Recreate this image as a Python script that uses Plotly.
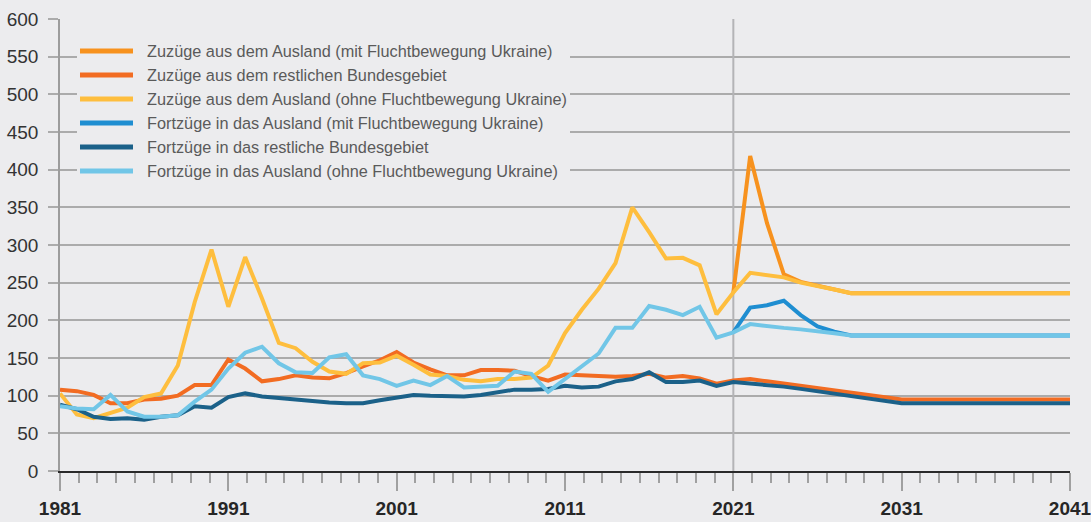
import plotly.graph_objects as go

# ---------------- data ----------------
years = list(range(1981, 2042))

zuzuege_ausland_ohne = [103, 75, 70, 77, 84, 98, 103, 140, 224, 294,
                        218, 284, 229, 170, 163, 145, 132, 129, 143, 144,
                        153, 141, 128, 126, 121, 119, 122, 122, 124, 140,
                        183, 214, 242, 276, 350, 317, 282, 283, 273, 208,
                        237, 263, 260, 257, 250, 246, 241, 236, 236, 236,
                        236, 236, 236, 236, 236, 236, 236, 236, 236, 236, 236]

zuzuege_ausland_mit_years = list(range(2021, 2042))
zuzuege_ausland_mit = [237, 418, 329, 261, 251, 246, 241, 236, 236, 236,
                       236, 236, 236, 236, 236, 236, 236, 236, 236, 236, 236]

zuzuege_bund = [108, 106, 101, 90, 90, 95, 96, 100, 114, 114,
                148, 136, 119, 122, 127, 124, 123, 130, 139, 147,
                158, 144, 135, 127, 127, 134, 134, 133, 126, 120,
                128, 127, 126, 125, 126, 129, 124, 126, 123, 116,
                120, 122, 119, 116, 113, 110, 107, 104, 101, 98,
                95, 95, 95, 95, 95, 95, 95, 95, 95, 95, 95]

fortzuege_ausland_ohne = [86, 83, 82, 101, 79, 72, 72, 74, 92, 108,
                          136, 157, 165, 143, 131, 130, 151, 155, 127, 122,
                          113, 120, 114, 126, 111, 112, 113, 132, 129, 105,
                          122, 138, 156, 190, 190, 219, 214, 207, 218, 177,
                          184, 195, 192, 190, 188, 186, 183, 180, 180, 180,
                          180, 180, 180, 180, 180, 180, 180, 180, 180, 180, 180]

fortzuege_ausland_mit_years = list(range(2021, 2042))
fortzuege_ausland_mit = [184, 217, 220, 226, 207, 192, 185, 180, 180, 180,
                         180, 180, 180, 180, 180, 180, 180, 180, 180, 180, 180]

fortzuege_bund = [88, 82, 72, 69, 70, 68, 72, 74, 86, 84,
                  98, 103, 99, 97, 94, 92, 91, 90, 90, 94,
                  98, 101, 100, 100, 99, 101, 104, 108, 108, 109,
                  113, 111, 112, 119, 122, 131, 118, 118, 120, 113,
                  118, 116, 115, 112, 109, 106, 103, 100, 96, 93,
                  90, 90, 90, 90, 90, 90, 90, 90, 90, 90, 90]

x_tick_vals = [1981, 1991, 2001, 2011, 2021, 2031, 2041]
x_tick_text = ["1981", "1991", "2001", "2011", "2021", "2031", "2041"]

series_names = [
    "Zuzüge aus dem Ausland (mit Fluchtbewegung Ukraine)",
    "Zuzüge aus dem restlichen Bundesgebiet",
    "Zuzüge aus dem Ausland (ohne Fluchtbewegung Ukraine)",
    "Fortzüge in das Ausland (mit Fluchtbewegung Ukraine)",
    "Fortzüge in das restliche Bundesgebiet",
    "Fortzüge in das Ausland (ohne Fluchtbewegung Ukraine)",
]
series_colors = ["#F7921E", "#F26C22", "#FEBE3E", "#1F8ED1", "#1B6189", "#71C6E7"]

# ---------------- figure ----------------
W, H = 1091, 522
ML, MR, MT, MB = 60, 21, 19, 51
PW, PH = W - ML - MR, H - MT - MB
BG = "#ECECEE"
FONT = "Liberation Sans, Arial, Helvetica, sans-serif"


def px_x(px):
    return (px - ML) / PW


def px_y(py):
    return (H - MB - py) / PH


fig = go.Figure()
xs_list = [zuzuege_ausland_mit_years, years, years, fortzuege_ausland_mit_years, years, years]
ys_list = [zuzuege_ausland_mit, zuzuege_bund, zuzuege_ausland_ohne,
           fortzuege_ausland_mit, fortzuege_bund, fortzuege_ausland_ohne]
for name, color, xs, ys in zip(series_names, series_colors, xs_list, ys_list):
    fig.add_trace(go.Scatter(x=xs, y=ys, mode="lines", name=name,
                             line=dict(color=color, width=4),
                             showlegend=False, hoverinfo="x+y+name"))

shapes = []
# vertical marker at 2021
shapes.append(dict(type="line", xref="x", yref="y", x0=2021, x1=2021, y0=0, y1=600,
                   line=dict(color="#B4B4B6", width=2), layer="between"))
# legend box
shapes.append(dict(type="rect", xref="paper", yref="paper",
                   x0=px_x(77), x1=px_x(570), y0=px_y(185), y1=px_y(38),
                   fillcolor=BG, line=dict(width=0), layer="above"))
annotations = []
row_py = [51, 75, 99, 123, 147, 171]
for name, color, py in zip(series_names, series_colors, row_py):
    shapes.append(dict(type="line", xref="paper", yref="paper",
                       x0=px_x(80), x1=px_x(133), y0=px_y(py), y1=px_y(py),
                       line=dict(color=color, width=5), layer="above"))
    annotations.append(dict(xref="paper", yref="paper", x=px_x(145), y=px_y(py),
                            xanchor="left", yanchor="middle", showarrow=False,
                            text=name, font=dict(family=FONT, size=16.3, color="#5A5A5A")))

fig.update_layout(
    width=W, height=H,
    margin=dict(l=ML, r=MR, t=MT, b=MB, pad=0),
    paper_bgcolor=BG, plot_bgcolor=BG,
    font=dict(family=FONT, size=19, color="#333333"),
    shapes=shapes, annotations=annotations,
    showlegend=False,
)
fig.update_xaxes(
    range=[1981, 2041], showgrid=False, zeroline=False,
    showline=True, linecolor="#2A2A2A", linewidth=2,
    tickmode="array", tickvals=x_tick_vals, ticktext=x_tick_text,
    ticks="outside", ticklen=18, tickwidth=1.5, tickcolor="#A0A0A0",
    tickfont=dict(family=FONT, size=19, color="#262626", weight="bold"),
    ticklabelstandoff=1, ticklabeloverflow="allow",
    minor=dict(ticks="outside", ticklen=10, tickwidth=1.5, tickcolor="#A0A0A0",
               tickmode="linear", tick0=1981, dtick=10 / 9, showgrid=False),
    automargin=False, fixedrange=True,
)
fig.update_yaxes(
    range=[0, 600], tickmode="linear", tick0=0, dtick=50,
    showgrid=True, gridcolor="#ABABAB", gridwidth=1.5, zeroline=False,
    showline=True, linecolor="#9C9C9C", linewidth=1.5,
    ticks="outside", ticklen=10, tickwidth=1.5, tickcolor="#ABABAB",
    tickfont=dict(family=FONT, size=19, color="#333333"),
    ticklabelstandoff=6,
    automargin=False, fixedrange=True,
)

fig.write_html(
    "out.html",
    config={"displayModeBar": False},
    post_script="document.body.style.margin='0';document.body.style.background='#ECECEE';",
)
